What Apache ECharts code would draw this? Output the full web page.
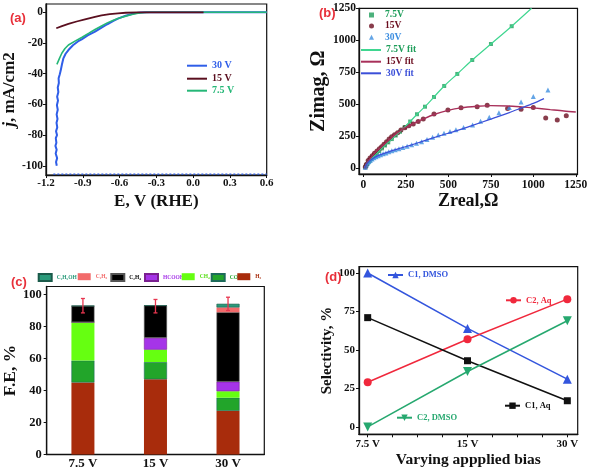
<!DOCTYPE html>
<html><head><meta charset="utf-8">
<script src="https://cdn.jsdelivr.net/npm/echarts@6/dist/echarts.min.js"></script>
<style>html,body{margin:0;padding:0;background:#fff}#c{width:591px;height:473px}</style>
</head><body><div id="c"></div>
<script>
// ---------- Panel (a): LSV curves [E (V vs RHE), j (mA/cm2)] ----------
const lsv30 = [[-1.112,-100],[-1.118,-97.5],[-1.109,-95],[-1.121,-92],[-1.113,-89.5],[-1.123,-87],[-1.115,-85],[-1.120,-82],[-1.110,-80],[-1.118,-77.5],[-1.108,-75],[-1.114,-72],[-1.106,-69.5],[-1.113,-66.5],[-1.104,-63.5],[-1.111,-60.5],[-1.102,-57.5],[-1.109,-55],[-1.099,-52],[-1.104,-49],[-1.095,-46],[-1.097,-43],[-1.088,-40.5],[-1.080,-38],[-1.070,-34],[-1.058,-30],[-1.040,-27],[-1.017,-24.6],[-0.980,-21.5],[-0.940,-19],[-0.909,-17.6],[-0.860,-15],[-0.800,-12.6],[-0.747,-10],[-0.700,-7.8],[-0.650,-5.6],[-0.613,-4.1],[-0.550,-2.2],[-0.500,-1.1],[-0.478,-0.7],[-0.430,-0.2],[-0.380,0],[0.600,0]];
const lsv30Floor = [[-1.14,-105.4],[0.6,-105.4]];
const lsv15 = [[-1.116,-10.4],[-1.070,-9.0],[-1.017,-7.6],[-0.950,-6.0],[-0.882,-4.6],[-0.800,-3.0],[-0.747,-2.0],[-0.680,-1.2],[-0.613,-0.65],[-0.550,-0.3],[-0.450,-0.1],[-0.300,0],[0.085,0]];
const lsv75 = [[-1.111,-33.9],[-1.090,-30],[-1.071,-26.7],[-1.045,-23.6],[-1.017,-21.3],[-0.960,-18.6],[-0.909,-16.4],[-0.850,-13.6],[-0.800,-11.2],[-0.747,-8.9],[-0.700,-6.9],[-0.650,-5.2],[-0.613,-4.1],[-0.550,-2.5],[-0.500,-1.5],[-0.450,-0.6],[-0.400,-0.1],[-0.350,0],[0.600,0]];
const aXTicks = [-1.2,-0.9,-0.6,-0.3,0,0.3,0.6];
const aYTicks = [-100,-80,-60,-40,-20,0];

// ---------- Panel (b): Nyquist [Zreal, Zimag] ----------
const eis75 = [[12,8],[17,20],[23,32],[30,45],[38,58],[47,72],[57,86],[68,100],[80,116],[94,135],[110,155],[128,178],[147,202],[168,228],[191,256],[216,285],[244,322],[276,365],[316,422],[363,481],[416,557],[476,643],[553,737],[641,846],[751,971],[873,1110],[995,1255]];
const eis15 = [[12,10],[18,30],[29,61],[40,80],[53,98],[66,118],[81,135],[95,152],[108,168],[122,188],[137,208],[152,228],[167,247],[184,262],[202,278],[222,298],[245,317],[268,332],[294,346],[323,365],[353,385],[416,424],[498,455],[575,473],[670,481],[729,492],[849,466],[928,461],[1000,474],[1073,393],[1141,377],[1194,411]];
const eis30 = [[12,8],[18,25],[25,40],[33,52],[42,62],[52,72],[63,82],[75,90],[88,98],[102,106],[117,113],[133,120],[150,128],[168,136],[188,144],[210,153],[233,163],[258,172],[285,183],[313,195],[343,208],[375,225],[408,242],[441,260],[475,274],[510,288],[545,301],[590,318],[643,338],[690,367],[741,398],[798,434],[859,474],[928,518],[1000,560],[1086,612]];
const fit75 = [[10,0],[17,20],[30,45],[47,72],[68,100],[94,135],[128,178],[168,228],[216,285],[244,322],[276,365],[316,422],[363,481],[416,557],[476,643],[553,737],[641,846],[751,971],[873,1110],[990,1250]];
const fit15 = [[10,0],[20,35],[40,75],[70,122],[100,160],[137,205],[170,245],[202,278],[245,315],[294,348],[353,385],[416,420],[498,452],[575,472],[670,484],[750,489],[850,487],[930,480],[1000,472],[1100,458],[1180,447],[1250,440]];
const fit30 = [[10,0],[15,20],[25,40],[42,62],[63,82],[102,106],[150,128],[210,153],[285,183],[343,208],[441,250],[545,292],[643,335],[741,380],[859,435],[928,470],[1000,507],[1063,544]];
const bTicks = [0,250,500,750,1000,1250];

// ---------- Panel (c): Faradaic efficiency (%) ----------
const feCats = ['7.5 V','15 V','30 V'];
const feH2     = [45, 47, 27.3];
const feCO     = [13.7, 10.8, 8.2];
const feCH4    = [24, 7.7, 4];
const feHCOOH  = [0, 7.4, 6];
const feC2H4   = [10.2, 20.2, 43.4];
const feC2H6   = [0, 0, 3];
const feC2H5OH = [0, 0, 2.3];
const feErrLow  = [88.5, 88.5, 90];
const feErrHigh = [97.5, 96.9, 98.3];
const cYTicks = [0,20,40,60,80,100];

// ---------- Panel (d): Selectivity (%) ----------
const selCats = ['7.5 V','15 V','30 V'];
const selC1DMSO = [100, 64, 31];
const selC2Aq   = [29, 57, 83];
const selC1Aq   = [71, 43, 17];
const selC2DMSO = [0, 36, 69];
const dYTicks = [0,25,50,75,100];

const SERIF = '"Liberation Serif","Times New Roman",serif';
const SANS = '"Liberation Sans",Arial,sans-serif';
const INK = '#111';

function axis(o) {
  return {
    type: o.type || 'value', gridIndex: o.grid, min: o.min, max: o.max,
    data: o.data, boundaryGap: o.type === 'category' ? true : undefined,
    name: o.name, nameLocation: 'middle', nameGap: o.nameGap,
    nameTextStyle: Object.assign({color: INK, fontFamily: SERIF, fontWeight: 'bold', fontSize: o.nameSize}, o.nameExtra || {}),
    axisLine: {show: true, onZero: false, lineStyle: {color: INK, width: 1.3}},
    axisTick: o.noTick ? {show: false} : {show: true, inside: false, length: 3, lineStyle: {color: INK, width: 1}, customValues: o.ticks},
    splitLine: {show: false},
    axisLabel: {color: INK, fontFamily: SERIF, fontWeight: 'bold', fontSize: o.labelSize, margin: o.margin,
      customValues: o.labels || o.ticks, formatter: o.fmt || (o.type === 'category' ? undefined : (v => String(v)))}
  };
}

function legend(name, left, cy, color, fs, iw, ih, extra) {
  const lh = Math.max(ih, fs + 2);
  return Object.assign({
    data: [name], left: left, top: cy - lh / 2, orient: 'horizontal', padding: 0,
    itemWidth: iw, itemHeight: ih, selectedMode: false,
    textStyle: {color: color, fontFamily: SERIF, fontWeight: 'bold', fontSize: fs, lineHeight: lh}
  }, extra || {});
}

const C = {
  a30: '#2f5ee8', a15: '#5a0f1f', a75: '#25b777',
  g75: '#1f9e5b', r15: '#6b0d1f', b30: '#3d8ee0',
  gf: '#3fd690', rf: '#a8305a', bf: '#3b4fd8',
  H2: '#a82c0c', CO: '#22a52a', CH4: '#66ff11', HCOOH: '#a534e8', C2H4: '#000000', C2H6: '#f26b6b', C2H5OH: '#2a9a7a',
  dBlue: '#3355dd', dRed: '#f0283c', dBlack: '#111111', dGreen: '#26a86f'
};

const chart = echarts.init(document.getElementById('c'), null, {renderer: 'canvas'});
const gridStyle = {show: true, borderColor: INK, borderWidth: 1.2, backgroundColor: 'transparent'};
const lineIcon = {icon: 'rect'};

const option = {
  animation: false,
  backgroundColor: '#fff',
  title: [
    {text: '(a)', left: 5, top: 7, textStyle: {color: '#e8303a', fontFamily: SANS, fontWeight: 'bold', fontSize: 13}},
    {text: '(b)', left: 314, top: 2, textStyle: {color: '#e8303a', fontFamily: SANS, fontWeight: 'bold', fontSize: 13}},
    {text: '(c)', left: 6, top: 271, textStyle: {color: '#e8303a', fontFamily: SANS, fontWeight: 'bold', fontSize: 13}},
    {text: '(d)', left: 320, top: 266, textStyle: {color: '#e8303a', fontFamily: SANS, fontWeight: 'bold', fontSize: 13}}
  ],
  grid: [
    Object.assign({left: 44, top: 4, width: 222.7, height: 171}, gridStyle),
    Object.assign({left: 359, top: 8.3, width: 218.5, height: 165.7}, gridStyle),
    Object.assign({left: 44.3, top: 286.5, width: 220, height: 168}, gridStyle),
    Object.assign({left: 359, top: 266.7, width: 218.7, height: 167.6}, gridStyle)
  ],
  xAxis: [
    axis({grid: 0, min: -1.2, max: 0.6, ticks: aXTicks, fmt: v => Number(v).toFixed(1), labelSize: 11, margin: 3,
      name: 'E, V (RHE)', nameSize: 17, nameGap: 18}),
    axis({grid: 1, min: -25, max: 1260, ticks: bTicks, labelSize: 11.5, margin: 5,
      name: 'Zreal,Ω', nameSize: 18, nameGap: 16}),
    axis({grid: 2, type: 'category', data: feCats, noTick: true, labelSize: 13, margin: 3}),
    axis({grid: 3, min: -0.087, max: 2.104, ticks: [0,0.25,0.5,0.75,1,1.25,1.5,1.75,2], labels: [0,1,2],
      fmt: v => selCats[Math.round(v)], labelSize: 11, margin: 4,
      name: 'Varying appplied bias', nameSize: 15.5, nameGap: 18})
  ],
  yAxis: [
    axis({grid: 0, min: -106, max: 5.4, ticks: aYTicks, labelSize: 11.5, margin: 3,
      name: '{i|j}, mA/cm2', nameSize: 17, nameGap: 17,
      nameExtra: {rich: {i: {fontStyle: 'italic', fontFamily: SERIF, fontWeight: 'bold', fontSize: 17, color: INK}}}}),
    axis({grid: 1, min: -45, max: 1250, ticks: bTicks, labelSize: 11.5, margin: 3,
      name: 'Zimag, Ω', nameSize: 20, nameGap: 22}),
    axis({grid: 2, min: 0, max: 105, ticks: cYTicks, labelSize: 12.5, margin: 5,
      name: 'F.E, %', nameSize: 17.5, nameGap: 21}),
    axis({grid: 3, min: -4.8, max: 104.1, ticks: dYTicks, labelSize: 11, margin: 4,
      name: 'Selectivity, %', nameSize: 15, nameGap: 21})
  ],
  legend: [
    legend('30 V', 187, 65.7, C.a30, 10, 20, 2, lineIcon),
    legend('15 V', 187, 78.7, C.a15, 10, 20, 2, lineIcon),
    legend('7.5 V', 187, 90.7, C.a75, 10, 20, 2, lineIcon),

    legend('7.5V', 369, 15, C.g75, 9.5, 5, 5, {textStyle: {color: C.g75, fontFamily: SERIF, fontWeight: 'bold', fontSize: 9.5, lineHeight: 11.5, padding: [0,0,0,6]}}),
    legend('15V', 369, 26, C.r15, 9.5, 5, 5, {textStyle: {color: C.r15, fontFamily: SERIF, fontWeight: 'bold', fontSize: 9.5, lineHeight: 11.5, padding: [0,0,0,6]}}),
    legend('30V', 369, 37.3, C.b30, 9.5, 5, 5, {textStyle: {color: C.b30, fontFamily: SERIF, fontWeight: 'bold', fontSize: 9.5, lineHeight: 11.5, padding: [0,0,0,6]}}),
    legend('7.5V fit', 361, 50, C.gf, 9.5, 20, 2, {icon: 'rect', textStyle: {color: C.g75, fontFamily: SERIF, fontWeight: 'bold', fontSize: 9.5, lineHeight: 11.5}}),
    legend('15V fit', 361, 61.7, C.rf, 9.5, 20, 2, {icon: 'rect', textStyle: {color: C.r15, fontFamily: SERIF, fontWeight: 'bold', fontSize: 9.5, lineHeight: 11.5}}),
    legend('30V fit', 361, 73.3, C.bf, 9.5, 20, 2, {icon: 'rect', textStyle: {color: C.bf, fontFamily: SERIF, fontWeight: 'bold', fontSize: 9.5, lineHeight: 11.5}}),

    legend('C₂H₅OH', 37.7, 276.7, C.C2H5OH, 5.5, 13, 7, {icon: 'rect'}),
    legend('C₂H₆', 77.7, 276.7, C.C2H6, 5.5, 13, 7, {icon: 'rect'}),
    legend('C₂H₄', 110.3, 276.7, '#000', 5.5, 13, 7, {icon: 'rect'}),
    legend('HCOOH', 144, 276.7, C.HCOOH, 5.5, 13, 7, {icon: 'rect'}),
    legend('CH₄', 181.7, 276.7, '#55dd11', 5.5, 13, 7, {icon: 'rect'}),
    legend('CO', 210.7, 276.7, C.CO, 5.5, 13, 7, {icon: 'rect'}),
    legend('H₂', 237.3, 276.7, C.H2, 5.5, 13, 7, {icon: 'rect'}),

    legend('C1, DMSO', 387, 275, C.dBlue, 8.5, 15, 8),
    legend('C2, Aq', 505, 300.3, C.dRed, 8.5, 15, 8),
    legend('C1, Aq', 504, 405.7, INK, 8.5, 15, 8),
    legend('C2, DMSO', 396, 417.7, C.dGreen, 8.5, 15, 8)
  ],
  series: [
    // (a)
    {name: '30 V', type: 'line', xAxisIndex: 0, yAxisIndex: 0, data: lsv30, symbol: 'none', lineStyle: {color: C.a30, width: 2}, itemStyle: {color: C.a30}},
    {type: 'line', xAxisIndex: 0, yAxisIndex: 0, data: lsv30Floor, symbol: 'none', silent: true, z: 3,
      lineStyle: {color: C.a30, width: 1.3, type: [2, 2]}},
    {name: '7.5 V', type: 'line', xAxisIndex: 0, yAxisIndex: 0, data: lsv75, symbol: 'none', lineStyle: {color: C.a75, width: 1.6}, itemStyle: {color: C.a75}},
    {name: '15 V', type: 'line', xAxisIndex: 0, yAxisIndex: 0, data: lsv15, symbol: 'none', lineStyle: {color: C.a15, width: 1.8}, itemStyle: {color: C.a15}},
    // (b) fits
    {name: '7.5V fit', type: 'line', xAxisIndex: 1, yAxisIndex: 1, data: fit75, symbol: 'none', smooth: 0.3, lineStyle: {color: C.gf, width: 1.2}, itemStyle: {color: C.gf}},
    {name: '15V fit', type: 'line', xAxisIndex: 1, yAxisIndex: 1, data: fit15, symbol: 'none', smooth: 0.3, lineStyle: {color: C.rf, width: 1.4}, itemStyle: {color: C.rf}},
    {name: '30V fit', type: 'line', xAxisIndex: 1, yAxisIndex: 1, data: fit30, symbol: 'none', smooth: 0.3, lineStyle: {color: C.bf, width: 1.2}, itemStyle: {color: C.bf}},
    // (b) points
    {name: '7.5V', type: 'scatter', xAxisIndex: 1, yAxisIndex: 1, data: eis75, symbol: 'rect', symbolSize: 4, itemStyle: {color: C.g75}},
    {name: '15V', type: 'scatter', xAxisIndex: 1, yAxisIndex: 1, data: eis15, symbol: 'circle', symbolSize: 5, itemStyle: {color: C.r15}},
    {name: '30V', type: 'scatter', xAxisIndex: 1, yAxisIndex: 1, data: eis30, symbol: 'triangle', symbolSize: 5, itemStyle: {color: C.b30}},
    // (c)
    {name: 'H₂', type: 'bar', stack: 'fe', xAxisIndex: 2, yAxisIndex: 2, data: feH2, barWidth: 23, itemStyle: {color: C.H2}},
    {name: 'CO', type: 'bar', stack: 'fe', xAxisIndex: 2, yAxisIndex: 2, data: feCO, barWidth: 23, itemStyle: {color: C.CO, borderColor: '#1d6b5a', borderWidth: 0.6}},
    {name: 'CH₄', type: 'bar', stack: 'fe', xAxisIndex: 2, yAxisIndex: 2, data: feCH4, barWidth: 23, itemStyle: {color: C.CH4}},
    {name: 'HCOOH', type: 'bar', stack: 'fe', xAxisIndex: 2, yAxisIndex: 2, data: feHCOOH, barWidth: 23, itemStyle: {color: C.HCOOH, borderColor: '#7a2090', borderWidth: 0.6}},
    {name: 'C₂H₄', type: 'bar', stack: 'fe', xAxisIndex: 2, yAxisIndex: 2, data: feC2H4, barWidth: 23, itemStyle: {color: C.C2H4, borderColor: '#555', borderWidth: 0.6}},
    {name: 'C₂H₆', type: 'bar', stack: 'fe', xAxisIndex: 2, yAxisIndex: 2, data: feC2H6, barWidth: 23, itemStyle: {color: C.C2H6}},
    {name: 'C₂H₅OH', type: 'bar', stack: 'fe', xAxisIndex: 2, yAxisIndex: 2, data: feC2H5OH, barWidth: 23, itemStyle: {color: C.C2H5OH, borderColor: '#1a5a4a', borderWidth: 0.6}},
    {type: 'custom', xAxisIndex: 2, yAxisIndex: 2, z: 5,
      data: feCats.map((c, i) => [i, feErrLow[i], feErrHigh[i]]),
      encode: {x: 0, y: [1, 2]},
      renderItem: function (params, api) {
        const i = api.value(0);
        const lo = api.coord([i, api.value(1)]);
        const hi = api.coord([i, api.value(2)]);
        const hw = 2;
        const st = {stroke: '#e8364f', lineWidth: 1.3};
        return {type: 'group', children: [
          {type: 'line', shape: {x1: lo[0], y1: lo[1], x2: hi[0], y2: hi[1]}, style: st},
          {type: 'line', shape: {x1: hi[0] - hw, y1: hi[1], x2: hi[0] + hw, y2: hi[1]}, style: st},
          {type: 'line', shape: {x1: lo[0] - hw, y1: lo[1], x2: lo[0] + hw, y2: lo[1]}, style: st}
        ]};
      }},
    // (d)
    {name: 'C1, DMSO', type: 'line', xAxisIndex: 3, yAxisIndex: 3, data: selC1DMSO.map((v, i) => [i, v]), symbol: 'triangle', symbolSize: 9, lineStyle: {color: C.dBlue, width: 1.5}, itemStyle: {color: C.dBlue}},
    {name: 'C2, Aq', type: 'line', xAxisIndex: 3, yAxisIndex: 3, data: selC2Aq.map((v, i) => [i, v]), symbol: 'circle', symbolSize: 8, lineStyle: {color: C.dRed, width: 1.5}, itemStyle: {color: C.dRed}},
    {name: 'C1, Aq', type: 'line', xAxisIndex: 3, yAxisIndex: 3, data: selC1Aq.map((v, i) => [i, v]), symbol: 'rect', symbolSize: 7, lineStyle: {color: C.dBlack, width: 1.5}, itemStyle: {color: C.dBlack}},
    {name: 'C2, DMSO', type: 'line', xAxisIndex: 3, yAxisIndex: 3, data: selC2DMSO.map((v, i) => [i, v]), symbol: 'triangle', symbolRotate: 180, symbolSize: 9, lineStyle: {color: C.dGreen, width: 1.5}, itemStyle: {color: C.dGreen}}
  ]
};
chart.setOption(option);
</script>
</body></html>
